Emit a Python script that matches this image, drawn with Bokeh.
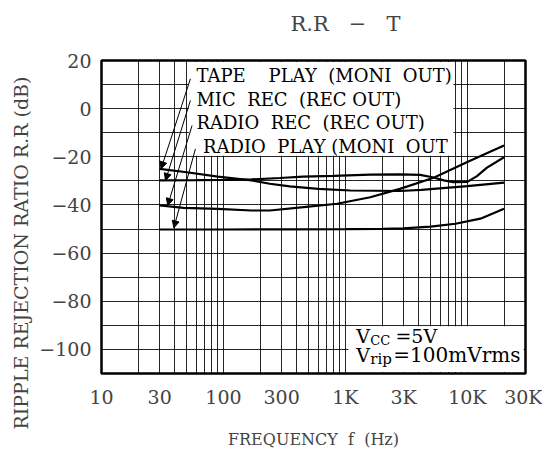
from bokeh.plotting import figure
from bokeh.models import FixedTicker, Arrow, NormalHead, Title, Range1d
from bokeh.core.properties import value
from bokeh.embed import file_html
from bokeh.resources import INLINE

# ---- data ----
tape_f = [30, 50, 90, 170, 240, 350, 600, 1100, 2800, 4200, 10000, 20000]
tape_db = [-25.0, -26.4, -28.2, -29.8, -31.2, -32.3, -33.3, -34.0, -34.2, -33.7, -32.2, -30.7]

mic_f = [30, 60, 100, 170, 290, 450, 800, 1600, 2800, 4100, 5300, 6400, 7700, 10000, 12000, 14500, 20000]
mic_db = [-29.8, -29.7, -29.6, -29.4, -28.8, -28.2, -27.9, -27.4, -27.3, -27.5, -28.6, -29.8, -30.5, -30.4, -28.0, -24.5, -20.2]

rrec_f = [30, 47, 90, 170, 240, 455, 855, 1600, 2800, 5300, 10000, 20000]
rrec_db = [-40.2, -41.2, -41.6, -42.3, -42.3, -40.9, -39.5, -36.8, -33.3, -28.7, -22.2, -15.3]

rplay_f = [30, 100, 300, 1000, 2000, 3000, 5000, 8000, 12800, 20000]
rplay_db = [-50.2, -50.2, -50.1, -50.0, -49.9, -49.7, -49.0, -47.8, -45.7, -41.6]

x_ticks = [10, 30, 100, 300, 1000, 3000, 10000, 30000]
x_tick_labels = ["10", "30", "100", "300", "1K", "3K", "10K", "30K"]
y_ticks = [-100, -80, -60, -40, -20, 0, 20]
y_tick_labels = ["\u2212100", "\u221280", "\u221260", "\u221240", "\u221220", "0", "20"]

x_grid = [20, 30, 40, 50, 60, 70, 80, 90,
          100, 200, 300, 400, 500, 600, 700, 800, 900,
          1000, 2000, 3000, 4000, 5000, 6000, 7000, 8000, 9000,
          10000, 20000]
y_grid = [-100, -90, -80, -70, -60, -50, -40, -30, -20, -10, 0, 10]

S = "\u00a0"
legend_labels = ["TAPE" + S * 4 + "PLAY" + S * 2 + "(MONI" + S * 2 + "OUT)",
                 "MIC" + S * 2 + "REC" + S * 2 + "(REC" + S + "OUT)",
                 "RADIO" + S * 2 + "REC" + S * 2 + "(REC" + S + "OUT)",
                 "RADIO" + S * 2 + "PLAY" + S + "(MONI" + S * 2 + "OUT"]
legend_x = [60, 60, 60, 68]
legend_y = [13.8, 3.8, -5.7, -15.7]

arrow_start_f = [53.6, 53.6, 55.3, 58.9]
arrow_start_db = [12.4, 3.4, -7.0, -16.7]
arrow_end_f = [30.8, 33.5, 34.9, 39.2]
arrow_end_db = [-25.0, -29.8, -40.2, -49.5]

FONT = "DejaVu Serif"

p = figure(x_axis_type="log", x_range=Range1d(10, 30000), y_range=Range1d(-110, 20),
           frame_width=424, frame_height=313,
           min_border_left=101, min_border_right=17, min_border_top=60, min_border_bottom=74,
           output_backend="svg", toolbar_location=None, background_fill_color="white",
           border_fill_color="white")

# title (second blank line lifts the first line upward)
p.title.text = "R.R" + S * 3 + "\u2212" + S * 3 + "T\n" + S
p.title.align = "left"
p.title.offset = 189
p.title.standoff = 2
p.title.text_font = FONT
p.title.text_font_size = "21px"
p.title.text_font_style = "normal"

# outline
p.outline_line_color = "black"
p.outline_line_width = 2.5
p.outline_line_alpha = 1.0

# x axis
p.xaxis.ticker = FixedTicker(ticks=x_ticks, minor_ticks=[])
p.xaxis.major_label_overrides = {t: l for t, l in zip(x_ticks, x_tick_labels)}
p.xaxis.major_label_text_font = FONT
p.xaxis.major_label_text_font_size = "19px"
p.xaxis.major_label_standoff = 6
p.xaxis.major_tick_line_color = None
p.xaxis.minor_tick_line_color = None
p.xaxis.axis_line_color = None
p.xaxis.axis_label = "FREQUENCY" + S * 2 + "f" + S * 2 + "(Hz)"
p.xaxis.axis_label_text_font = FONT
p.xaxis.axis_label_text_font_size = "16px"
p.xaxis.axis_label_text_font_style = "normal"
p.xaxis.axis_label_standoff = 19

# y axis
p.yaxis.ticker = FixedTicker(ticks=y_ticks, minor_ticks=[])
p.yaxis.major_label_overrides = {t: l for t, l in zip(y_ticks, y_tick_labels)}
p.yaxis.major_label_text_font = FONT
p.yaxis.major_label_text_font_size = "19px"
p.yaxis.major_label_standoff = 4
p.yaxis.major_tick_line_color = None
p.yaxis.minor_tick_line_color = None
p.yaxis.axis_line_color = None

ylab = Title(text="RIPPLE REJECTION RATIO R.R (dB)", align="left", offset=-56,
             text_font=FONT, text_font_size="19px", text_font_style="normal")
p.add_layout(ylab, "left")

# grids
p.xgrid.ticker = FixedTicker(ticks=x_grid)
p.ygrid.ticker = FixedTicker(ticks=y_grid)
for g in (p.xgrid, p.ygrid):
    g.grid_line_color = "black"
    g.grid_line_alpha = 0.85
    g.grid_line_width = 1

# white label areas covering the grid
p.quad(left=[52], right=[7700], bottom=[-19.6], top=[19.4],
       fill_color="white", line_color=None)
p.quad(left=[1060], right=[29000], bottom=[-109.4], top=[-90.4],
       fill_color="white", line_color=None)

# curves
for fx, dbs in ((tape_f, tape_db), (mic_f, mic_db), (rrec_f, rrec_db), (rplay_f, rplay_db)):
    p.line(fx, dbs, line_color="black", line_width=2.2)

# legend texts
p.text(x=legend_x, y=legend_y, text=legend_labels, text_font=value(FONT),
       text_font_size="18px", text_baseline="middle", text_align="left", text_color="black")

# arrows
for xs, ys, xe, ye in zip(arrow_start_f, arrow_start_db, arrow_end_f, arrow_end_db):
    p.add_layout(Arrow(end=NormalHead(size=7, fill_color="black", line_color="black", line_width=1),
                       x_start=xs, y_start=ys, x_end=xe, y_end=ye,
                       line_color="black", line_width=1))

# conditions box text
cond_x = 1230
p.text(x=[cond_x, cond_x], y=[-94.6, -102.3], text=["V", "V"], text_font=value(FONT),
       text_font_size="19px", text_baseline="middle", text_align="left")
p.text(x=[cond_x], y=[-94.6], text=["CC"], text_font=value(FONT),
       text_font_size="13px", text_baseline="middle", text_align="left",
       x_offset=14, y_offset=4)
p.text(x=[cond_x], y=[-102.3], text=["rip"], text_font=value(FONT),
       text_font_size="15px", text_baseline="middle", text_align="left",
       x_offset=14, y_offset=4)
p.text(x=[cond_x], y=[-94.6], text=[S + "=5V"], text_font=value(FONT),
       text_font_size="19px", text_baseline="middle", text_align="left", x_offset=33)
p.text(x=[cond_x], y=[-102.3], text=["=100mVrms"], text_font=value(FONT),
       text_font_size="20px", text_baseline="middle", text_align="left", x_offset=37)

open("out.html", "w").write(file_html(p, INLINE))
